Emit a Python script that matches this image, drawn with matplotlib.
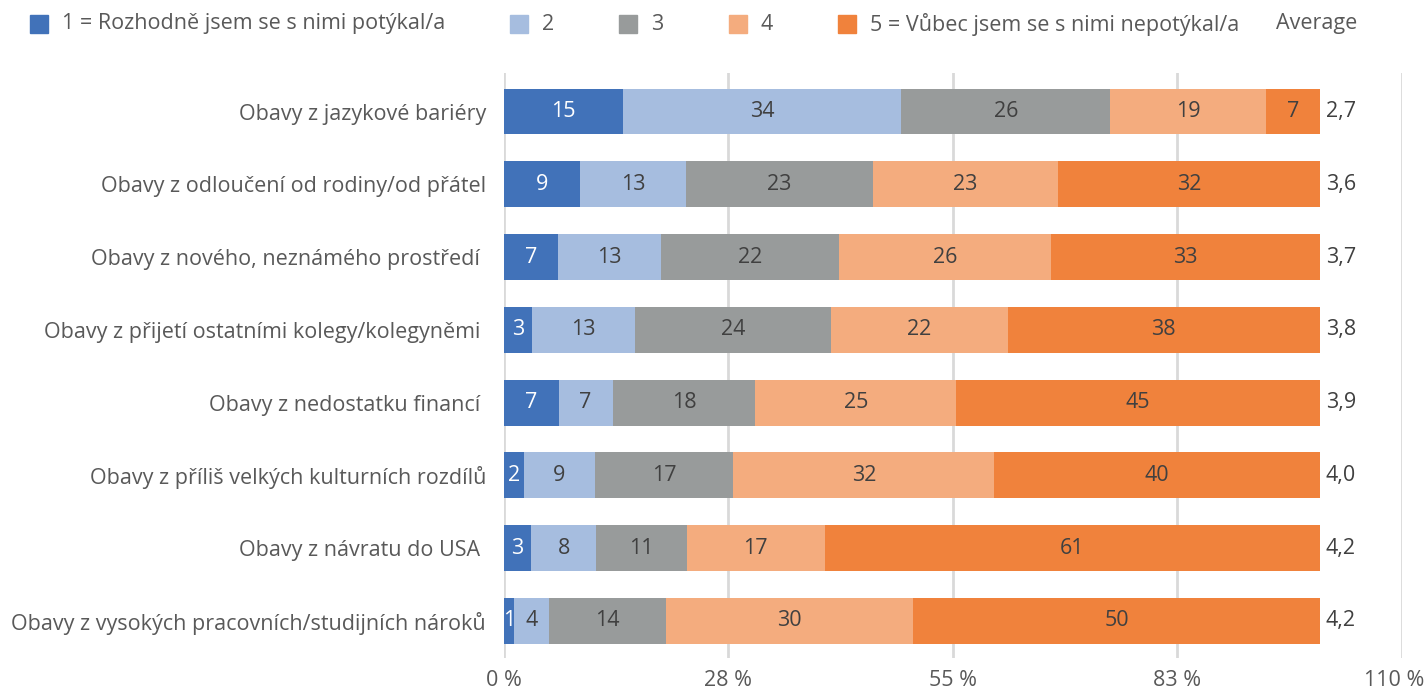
import matplotlib
matplotlib.use("Agg")
import matplotlib.pyplot as plt
from matplotlib.patches import Rectangle
from matplotlib.transforms import ScaledTranslation
import numpy as np

plt.rcParams['font.family'] = ['Open Sans', 'DejaVu Sans']

categories = [
    "Obavy z jazykové bariéry",
    "Obavy z odloučení od rodiny/od přátel",
    "Obavy z nového, neznámého prostředí ",
    "Obavy z přijetí ostatními kolegy/kolegyněmi ",
    "Obavy z nedostatku financí ",
    "Obavy z příliš velkých kulturních rozdílů",
    "Obavy z návratu do USA ",
    "Obavy z vysokých pracovních/studijních nároků",
]
series_names = ["1 = Rozhodně jsem se s nimi potýkal/a", "2", "3", "4",
                "5 = Vůbec jsem se s nimi nepotýkal/a"]
s1 = [14.6, 9.3, 6.6, 3.4, 6.7, 2.4, 3.3, 1.2]
s2 = [34.1, 13.0, 12.6, 12.6, 6.6, 8.7, 8.0, 4.3]
s3 = [25.6, 22.9, 21.8, 24.1, 17.5, 17.0, 11.1, 14.4]
s4 = [19.1, 22.7, 26.0, 21.6, 24.6, 32.0, 16.9, 30.2]
s5 = [6.6, 32.1, 33.0, 38.3, 44.6, 39.9, 60.7, 49.9]
averages = [2.7, 3.6, 3.7, 3.8, 3.9, 4.0, 4.2, 4.2]
xticks = [0, 27.5, 55, 82.5, 110]
xtick_labels = ["0 %", "28 %", "55 %", "83 %", "110 %"]

colors = ["#4172B9", "#A6BDDF", "#989B9B", "#F4AC7E", "#F0823C"]
label_colors = ["white", "#404040", "#404040", "#404040", "#404040"]
text_gray = "#595959"
fs = 15.5

fig = plt.figure(figsize=(14.25, 6.93), dpi=100)
ax = fig.add_axes([504 / 1425, 1 - 658 / 693, (1401.7 - 504) / 1425, (658 - 73) / 693])

y = np.arange(len(categories))
left = np.zeros(len(categories))
for vals, name, c, lc in zip([s1, s2, s3, s4, s5], series_names, colors, label_colors):
    vals = np.array(vals)
    bars = ax.barh(y, vals, left=left, height=0.63, color=c, label=name, zorder=2)
    ax.bar_label(bars, labels=["%.0f" % v for v in vals], label_type="center",
                 color=lc, fontsize=fs)
    left += vals

for yi, tot, avg in zip(y, left, averages):
    ax.text(tot + 0.7, yi, ("%.1f" % avg).replace(".", ","), va="center", ha="left",
            color="#404040", fontsize=fs)

ax.set_xlim(0, 110)
ax.set_ylim(7.51, -0.53)
ax.set_xticks(xticks)
ax.set_xticklabels(xtick_labels, color=text_gray, fontsize=fs)
ax.set_yticks(y)
ax.set_yticklabels(categories, color=text_gray, fontsize=fs)
ax.tick_params(length=0)
ax.tick_params(axis="y", pad=13)
ax.tick_params(axis="x", pad=9)
ax.grid(axis="x", color="#D9D9D9", linewidth=2, zorder=0)
ax.set_axisbelow(True)
for sp in ax.spines.values():
    sp.set_visible(False)
# keep the last tick label inside the figure
last = ax.get_xticklabels()[-1]
last.set_transform(last.get_transform() + ScaledTranslation(-8 / 100, 0, fig.dpi_scale_trans))

# legend drawn by hand along the top
fig.canvas.draw()
renderer = fig.canvas.get_renderer()
W, H = fig.bbox.width, fig.bbox.height
x = 30
yc = 24
box = 18
for name, c in zip(series_names, colors):
    fig.add_artist(Rectangle((x / W, 1 - (yc + box / 2) / H), box / W, box / H,
                             color=c, transform=fig.transFigure))
    t = fig.text((x + box + 14) / W, 1 - yc / H, name, color=text_gray,
                 fontsize=fs, va="center", ha="left")
    bb = t.get_window_extent(renderer)
    x = bb.x1 + 65
x -= 28
fig.text(x / W, 1 - yc / H, "Average", color=text_gray, fontsize=fs,
         va="center", ha="left")

fig.savefig("out.png", dpi=100)
